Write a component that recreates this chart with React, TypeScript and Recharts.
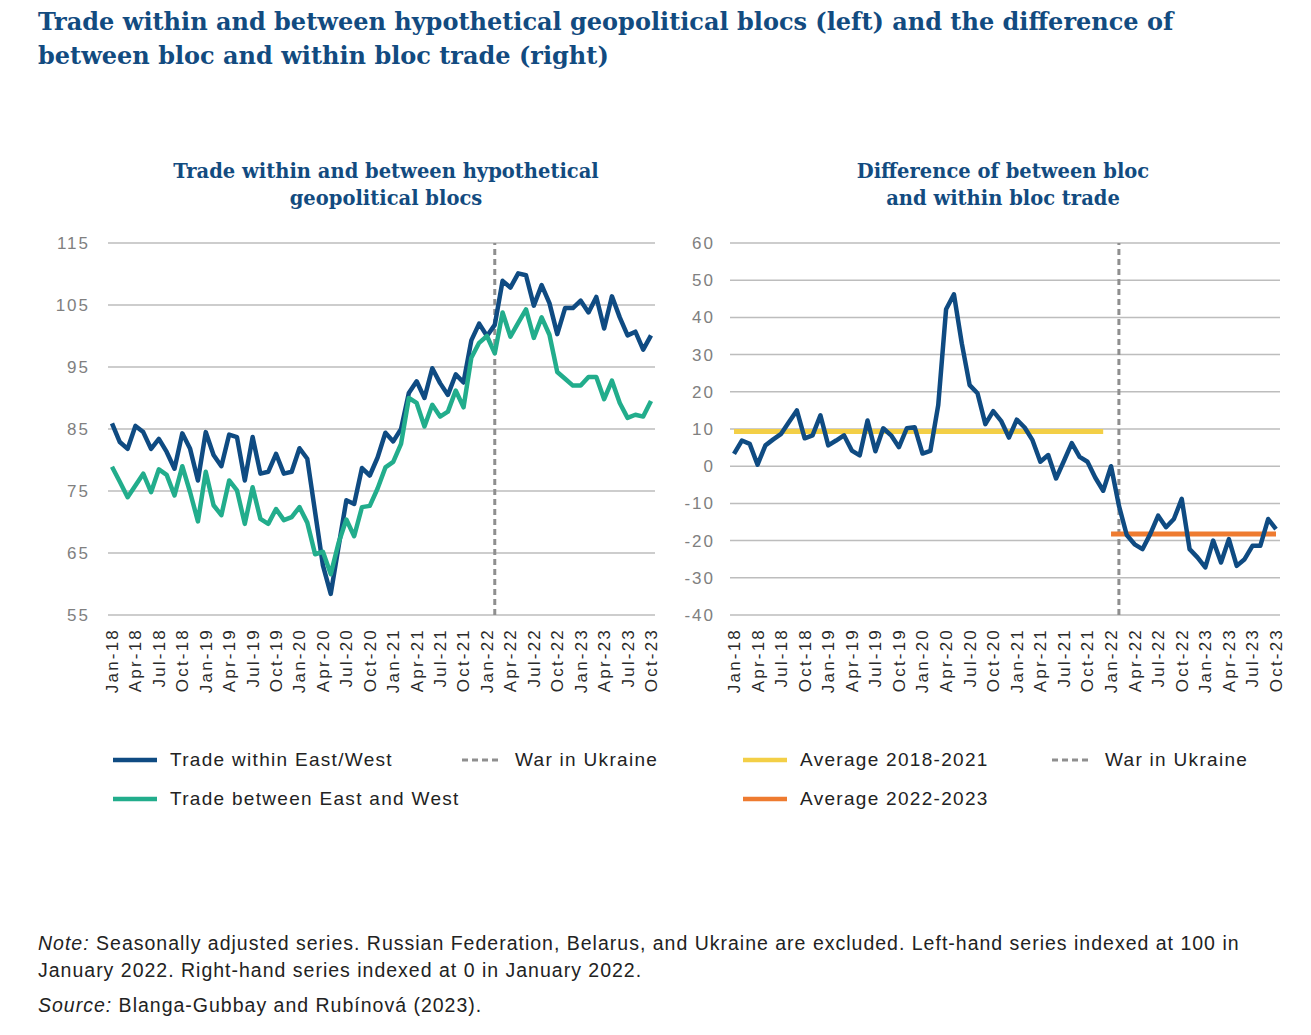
import React from "react";
import { LineChart, Line, XAxis, YAxis, CartesianGrid, ReferenceLine } from "recharts";

const months = [
  "Jan-18", "Feb-18", "Mar-18", "Apr-18", "May-18", "Jun-18", "Jul-18", "Aug-18", "Sep-18", "Oct-18", "Nov-18", "Dec-18",
  "Jan-19", "Feb-19", "Mar-19", "Apr-19", "May-19", "Jun-19", "Jul-19", "Aug-19", "Sep-19", "Oct-19", "Nov-19", "Dec-19",
  "Jan-20", "Feb-20", "Mar-20", "Apr-20", "May-20", "Jun-20", "Jul-20", "Aug-20", "Sep-20", "Oct-20", "Nov-20", "Dec-20",
  "Jan-21", "Feb-21", "Mar-21", "Apr-21", "May-21", "Jun-21", "Jul-21", "Aug-21", "Sep-21", "Oct-21", "Nov-21", "Dec-21",
  "Jan-22", "Feb-22", "Mar-22", "Apr-22", "May-22", "Jun-22", "Jul-22", "Aug-22", "Sep-22", "Oct-22", "Nov-22", "Dec-22",
  "Jan-23", "Feb-23", "Mar-23", "Apr-23", "May-23", "Jun-23", "Jul-23", "Aug-23", "Sep-23", "Oct-23",
];

const tradeWithin = [
  85.9, 82.9, 81.8, 85.5, 84.5, 81.8, 83.4, 81.3, 78.6, 84.3,
  81.8, 76.7, 84.5, 80.8, 79.0, 84.1, 83.7, 76.7, 83.7, 77.8,
  78.1, 81.0, 77.8, 78.1, 81.9, 80.2, 71.6, 63.0, 58.4, 66.0,
  73.5, 72.9, 78.7, 77.5, 80.4, 84.4, 83.0, 85.0, 90.8, 92.7,
  90.0, 94.8, 92.4, 90.5, 93.8, 92.5, 99.3, 102.0, 100.0, 101.8,
  108.9, 107.8, 110.1, 109.8, 104.9, 108.2, 105.3, 100.3, 104.5, 104.5,
  105.7, 103.8, 106.3, 101.2, 106.4, 103.0, 100.1, 100.7, 97.8, 100.1,
];

const tradeBetween = [
  78.9, 76.5, 74.0, 75.9, 77.8, 74.8, 78.5, 77.6, 74.3, 79.0,
  74.8, 70.1, 78.1, 72.7, 71.1, 76.7, 75.1, 69.7, 75.6, 70.5,
  69.7, 72.1, 70.3, 70.8, 72.4, 69.9, 64.8, 65.2, 61.6, 66.6,
  70.4, 67.7, 72.4, 72.6, 75.4, 78.8, 79.7, 82.6, 90.0, 89.2,
  85.4, 88.9, 87.0, 87.8, 91.2, 88.5, 96.5, 98.9, 100.0, 97.2,
  103.8, 99.9, 102.1, 104.3, 99.7, 103.0, 100.2, 94.2, 93.1, 92.0,
  92.0, 93.4, 93.4, 89.8, 92.8, 89.2, 86.8, 87.3, 87.0, 89.5,
];

const blocDifference = [
  3.3, 6.9, 6.0, 0.4, 5.6, 7.2, 8.7, 11.9, 15.0, 7.5,
  8.3, 13.7, 5.6, 6.9, 8.3, 4.2, 2.9, 12.3, 4.0, 10.2,
  8.3, 5.1, 10.2, 10.5, 3.4, 4.1, 16.4, 42.2, 46.2, 33.0,
  21.8, 19.6, 11.3, 14.8, 12.2, 7.7, 12.5, 10.4, 7.0, 1.2,
  3.0, -3.3, 1.4, 6.2, 2.5, 1.2, -3.1, -6.6, 0.0, -10.6,
  -18.5, -21.0, -22.3, -18.2, -13.3, -16.4, -14.2, -8.8, -22.3, -24.5,
  -27.2, -20.0, -25.9, -19.6, -26.8, -25.0, -21.4, -21.4, -14.2, -16.9,
];

const average2018to2021 = 9.3;
const average2022to2023 = -18.2;
const averageSplitMonth = "Jan-22";
const warMonth = "Feb-22";

const leftTicks = [55, 65, 75, 85, 95, 105, 115];
const rightTicks = [-40, -30, -20, -10, 0, 10, 20, 30, 40, 50, 60];

const BLUE = "#0f4b82";
const GREEN = "#22ad8c";
const YELLOW = "#f3cf46";
const ORANGE = "#ee7b30";
const DASH = "#8f8f8f";
const GRID = "#bdbdbd";
const TITLE = "#124b80";
const SANS = "'Liberation Sans', Arial, sans-serif";
const SERIF = "'DejaVu Serif', serif";

const splitIndex = months.indexOf(averageSplitMonth);

const leftData = months.map((m, i) => ({
  month: m,
  within: tradeWithin[i],
  between: tradeBetween[i],
}));

const rightData = months.map((m, i) => ({
  month: m,
  diff: blocDifference[i],
  avgA: i < splitIndex ? average2018to2021 : null,
  avgB: i >= splitIndex ? average2022to2023 : null,
}));

const XTick = (props: any) => {
  const { x, y, payload } = props;
  return (
    <text
      x={x}
      y={y}
      transform={`rotate(-90, ${x}, ${y})`}
      textAnchor="end"
      dy="0.35em"
      fontSize={17}
      letterSpacing={2.2}
      fill="#2a2a2a"
      fontFamily={SANS}
    >
      {payload.value}
    </text>
  );
};

const yTickStyle = { fontSize: 17, fill: "#808080", fontFamily: SANS, letterSpacing: 2 };

const LegendItem = ({ left, top, color, dashed, label }: any) => (
  <div style={{ position: "absolute", left, top, height: 24, display: "flex", alignItems: "center" }}>
    <svg width={50} height={8} style={{ display: "block" }}>
      <line
        x1={2}
        y1={4}
        x2={dashed ? 40 : 46}
        y2={4}
        stroke={color}
        strokeWidth={dashed ? 3 : 4.5}
        strokeDasharray={dashed ? "6 4" : undefined}
      />
    </svg>
    <span
      style={{
        marginLeft: dashed ? 5 : 9,
        fontFamily: SANS,
        fontSize: 19,
        letterSpacing: 1.3,
        color: "#222",
        whiteSpace: "nowrap",
      }}
    >
      {label}
    </span>
  </div>
);

export default function App() {
  return (
    <div style={{ position: "absolute", left: 0, top: 0, width: 1311, height: 1035, background: "#fff" }}>
      <div
        style={{
          position: "absolute",
          left: 38,
          top: 5,
          fontFamily: SERIF,
          fontWeight: "bold",
          fontSize: 24,
          lineHeight: "34px",
          color: TITLE,
          whiteSpace: "nowrap",
        }}
      >
        Trade within and between hypothetical geopolitical blocs (left) and the difference of
        <br />
        between bloc and within bloc trade (right)
      </div>

      <div
        style={{
          position: "absolute",
          left: 136,
          top: 158,
          width: 500,
          textAlign: "center",
          fontFamily: SERIF,
          fontWeight: "bold",
          fontSize: 19.5,
          lineHeight: "27px",
          color: TITLE,
        }}
      >
        Trade within and between hypothetical
        <br />
        geopolitical blocs
      </div>

      <div
        style={{
          position: "absolute",
          left: 753,
          top: 158,
          width: 500,
          textAlign: "center",
          fontFamily: SERIF,
          fontWeight: "bold",
          fontSize: 19.5,
          lineHeight: "27px",
          color: TITLE,
        }}
      >
        Difference of between bloc
        <br />
        and within bloc trade
      </div>

      <div style={{ position: "absolute", left: 40, top: 230 }}>
        <LineChart width={625} height={480} data={leftData} margin={{ top: 13, right: 10, bottom: 0, left: 0 }}>
          <CartesianGrid vertical={false} stroke={GRID} strokeWidth={1.5} />
          <XAxis
            dataKey="month"
            interval={2}
            tick={<XTick />}
            tickLine={false}
            axisLine={false}
            tickSize={0}
            tickMargin={13}
            height={95}
            padding={{ left: 4, right: 4 }}
          />
          <YAxis
            domain={[55, 115]}
            ticks={leftTicks}
            interval={0}
            tick={yTickStyle}
            tickLine={false}
            axisLine={false}
            tickSize={0}
            tickMargin={18}
            width={68}
          />
          <ReferenceLine x={warMonth} stroke={DASH} strokeWidth={3} strokeDasharray="6 4" />
          <Line dataKey="within" stroke={BLUE} strokeWidth={4.5} dot={false} isAnimationActive={false} strokeLinejoin="round" />
          <Line dataKey="between" stroke={GREEN} strokeWidth={4.5} dot={false} isAnimationActive={false} strokeLinejoin="round" />
        </LineChart>
      </div>

      <div style={{ position: "absolute", left: 662, top: 230 }}>
        <LineChart width={628} height={480} data={rightData} margin={{ top: 13, right: 10, bottom: 0, left: 0 }}>
          <CartesianGrid vertical={false} stroke={GRID} strokeWidth={1.5} />
          <XAxis
            dataKey="month"
            interval={2}
            tick={<XTick />}
            tickLine={false}
            axisLine={false}
            tickSize={0}
            tickMargin={13}
            height={95}
            padding={{ left: 4, right: 4 }}
          />
          <YAxis
            domain={[-40, 60]}
            ticks={rightTicks}
            interval={0}
            tick={yTickStyle}
            tickLine={false}
            axisLine={false}
            tickSize={0}
            tickMargin={15}
            width={68}
          />
          <ReferenceLine x={warMonth} stroke={DASH} strokeWidth={3} strokeDasharray="6 4" />
          <Line dataKey="avgA" stroke={YELLOW} strokeWidth={5} dot={false} isAnimationActive={false} connectNulls={false} />
          <Line dataKey="avgB" stroke={ORANGE} strokeWidth={5} dot={false} isAnimationActive={false} connectNulls={false} />
          <Line dataKey="diff" stroke={BLUE} strokeWidth={4.5} dot={false} isAnimationActive={false} strokeLinejoin="round" />
        </LineChart>
      </div>

      <LegendItem left={111} top={748} color={BLUE} label="Trade within East/West" />
      <LegendItem left={460} top={748} color={DASH} dashed label="War in Ukraine" />
      <LegendItem left={111} top={787} color={GREEN} label="Trade between East and West" />

      <LegendItem left={741} top={748} color={YELLOW} label="Average 2018-2021" />
      <LegendItem left={1050} top={748} color={DASH} dashed label="War in Ukraine" />
      <LegendItem left={741} top={787} color={ORANGE} label="Average 2022-2023" />

      <div
        style={{
          position: "absolute",
          left: 38,
          top: 930,
          fontFamily: SANS,
          fontSize: 19.5,
          lineHeight: "27px",
          letterSpacing: 1,
          color: "#222",
          whiteSpace: "nowrap",
        }}
      >
        <i>Note:</i> Seasonally adjusted series. Russian Federation, Belarus, and Ukraine are excluded. Left-hand series indexed at 100 in
        <br />
        January 2022. Right-hand series indexed at 0 in January 2022.
      </div>
      <div
        style={{
          position: "absolute",
          left: 38,
          top: 992,
          fontFamily: SANS,
          fontSize: 19.5,
          lineHeight: "27px",
          letterSpacing: 1,
          color: "#222",
          whiteSpace: "nowrap",
        }}
      >
        <i>Source:</i> Blanga-Gubbay and Rubínová (2023).
      </div>
    </div>
  );
}
